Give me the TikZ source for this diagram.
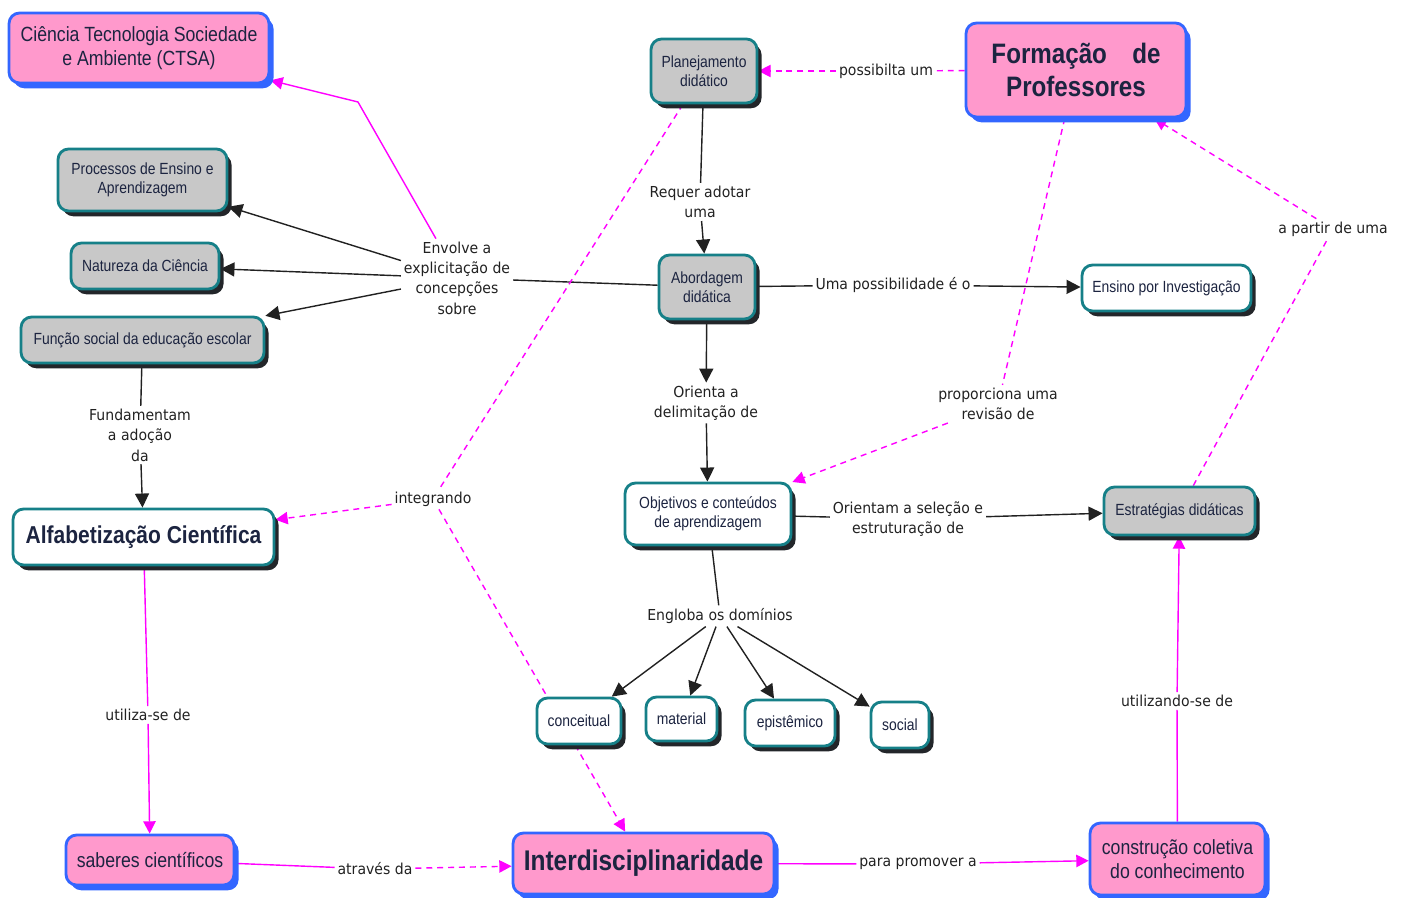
\documentclass[tikz,border=0pt]{standalone}
\usepackage{fontspec}
\setmainfont{Liberation Sans}
\newfontfamily\cfont[FakeStretch=0.86]{Liberation Sans}
\newfontfamily\lfont[FakeStretch=0.93]{DejaVu Sans}
\usetikzlibrary{arrows.meta,shadows,backgrounds}
\definecolor{cpink}{RGB}{255,153,204}
\definecolor{cblue}{RGB}{51,102,255}
\definecolor{cteal}{RGB}{22,128,136}
\definecolor{cgray}{RGB}{200,200,200}
\definecolor{cshad}{RGB}{35,38,42}
\definecolor{ctext}{RGB}{28,36,64}
\definecolor{cmag}{RGB}{255,0,255}
\tikzset{
  cbox/.style={rectangle, rounded corners=6pt, line width=1.6pt, align=center, text=ctext,
               inner sep=2pt, font=\cfont\fontsize{9.2}{10.8}\selectfont},
  pinkc/.style={cbox, draw=cblue, fill=cpink, font=\cfont\fontsize{11.7}{13.6}\selectfont,
                general shadow={fill=cblue, shadow xshift=2.6pt, shadow yshift=-3pt}},
  grayc/.style={cbox, draw=cteal, fill=cgray,
                general shadow={fill=cshad, shadow xshift=2.6pt, shadow yshift=-3pt}},
  whitec/.style={cbox, draw=cteal, fill=white,
                 general shadow={fill=cshad, shadow xshift=2.6pt, shadow yshift=-3pt}},
  lbl/.style={align=center, inner sep=1.5pt, text=black!87, font=\lfont\fontsize{8.6}{11.6}\selectfont},
  lnk/.style={line width=0.8pt, draw=black!87},
  arr/.style={lnk, -{Triangle[length=8pt,width=8pt]}},
  mlnk/.style={line width=0.8pt, draw=cmag},
  marr/.style={mlnk, -{Triangle[length=7pt,width=7pt]}},
  mdash/.style={mlnk, dash pattern=on 3.4pt off 2.8pt},
  mdarr/.style={mdash, -{Triangle[length=7pt,width=7pt]}},
}

\begin{document}
\begin{tikzpicture}[x=0.02cm, y=-0.02cm]
\useasboundingbox (0,0) rectangle (1406,898);

% --- conceitos ---
\node[pinkc, minimum width=5.2cm, minimum height=1.4cm] (ctsa) at (139,48) {Ciência Tecnologia Sociedade\\e Ambiente (CTSA)};
\node[grayc, minimum width=3.38cm, minimum height=1.24cm] (proc) at (142.5,180) {Processos de Ensino e\\Aprendizagem};
\node[grayc, minimum width=2.96cm, minimum height=0.92cm] (nat) at (145,266) {Natureza da Ciência};
\node[grayc, minimum width=4.86cm, minimum height=0.92cm] (func) at (142.5,340) {Função social da educação escolar};
\node[whitec, minimum width=5.22cm, minimum height=1.12cm,
      font=\cfont\bfseries\fontsize{13.9}{16}\selectfont] (alf) at (143.5,537) {Alfabetização Científica};
\node[pinkc, minimum width=3.36cm, minimum height=1.0cm] (sab) at (150,860) {saberes científicos};
\node[grayc, minimum width=2.12cm, minimum height=1.28cm] (plan) at (704,71) {Planejamento\\didático};
\node[pinkc, minimum width=4.4cm, minimum height=1.88cm,
      font=\cfont\bfseries\fontsize{16}{19.3}\selectfont] (form) at (1076,70) {Formação\hspace{0.9em}de\\Professores};
\node[grayc, minimum width=1.92cm, minimum height=1.28cm] (abord) at (707,287) {Abordagem\\didática};
\node[whitec, minimum width=3.38cm, minimum height=0.92cm] (ens) at (1166.5,288) {Ensino por Investigação};
\node[whitec, minimum width=3.32cm, minimum height=1.24cm] (obj) at (708,514) {Objetivos e conteúdos\\de aprendizagem};
\node[grayc, minimum width=3.02cm, minimum height=0.96cm] (estr) at (1179.5,511) {Estratégias didáticas};
\node[whitec, minimum width=1.68cm, minimum height=0.92cm] (conc) at (579,721) {conceitual};
\node[whitec, minimum width=1.42cm, minimum height=0.88cm] (mat) at (681.5,719) {material};
\node[whitec, minimum width=1.8cm, minimum height=0.92cm] (epi) at (790,723) {epistêmico};
\node[whitec, minimum width=1.16cm, minimum height=0.92cm] (soc) at (900,725) {social};
\node[pinkc, minimum width=5.22cm, minimum height=1.22cm,
      font=\cfont\bfseries\fontsize{16.2}{19}\selectfont] (inter) at (643.5,863.5) {Interdisciplinaridade};
\node[pinkc, minimum width=3.5cm, minimum height=1.44cm] (cons) at (1177.5,859) {construção coletiva\\do conhecimento};

% --- frases de ligacao ---
\node[lbl] (env) at (457,278) {Envolve a\\explicitação de\\concepções\\sobre};
\node[lbl] (poss) at (886,71) {possibilta um};
\node[lbl] (req) at (700,202) {Requer adotar\\uma};
\node[lbl] (uma) at (893,285) {Uma possibilidade é o};
\node[lbl] (fund) at (140,435) {Fundamentam\\a adoção\\da};
\node[lbl] (ori) at (706,403) {Orienta a\\delimitação de};
\node[lbl] (prop) at (998,404) {proporciona uma\\revisão de};
\node[lbl] (apart) at (1333,229) {a partir de uma};
\node[lbl] (integ) at (433,499) {integrando};
\node[lbl] (orsel) at (908,519) {Orientam a seleção e\\estruturação de};
\node[lbl] (engl) at (720,616) {Engloba os domínios};
\node[lbl] (util) at (148,715) {utiliza-se de};
\node[lbl] (utilz) at (1177,701) {utilizando-se de};
\node[lbl] (atrav) at (375,869) {através da};
\node[lbl] (promo) at (918,864) {para promover a};
\coordinate (kink) at (358,102);

\begin{scope}[on background layer]
% --- ligacoes pretas ---
\draw[lnk] (plan) -- (req);
\draw[arr] (req) -- (abord);
\draw[lnk] (abord) -- (env);
\foreach \c in {proc, nat, func} \draw[arr] (env) -- (\c);
\draw[lnk] (abord) -- (uma);
\draw[arr] (uma) -- (ens);
\draw[arr] (abord) -- (ori);
\draw[arr] (ori) -- (obj);
\draw[lnk] (func) -- (fund);
\draw[arr] (fund) -- (alf);
\draw[lnk] (obj) -- (orsel);
\draw[arr] (orsel) -- (estr);
\draw[lnk] (obj) -- (engl);
\foreach \c in {conc, mat, epi, soc} \draw[arr] (engl) -- (\c);

% --- ligacoes magenta ---
\draw[marr] ([xshift=-12pt]env.north) -- (kink) -- (ctsa);
\draw[mdash] (form) -- (poss);
\draw[mdarr] (poss) -- (plan);
\draw[mdash] (form) -- (prop);
\draw[mdarr] (prop) -- (obj);
\draw[mdash] (estr) -- (apart);
\draw[mdarr] (apart) -- (form);
\draw[mdash] (plan) -- (integ);
\draw[mdarr] (integ) -- (alf);
\draw[mdarr] (integ) -- (inter);
\draw[mlnk] (alf) -- (util);
\draw[marr] (util) -- (sab);
\draw[mlnk] (sab) -- (atrav);
\draw[mdarr] (atrav) -- (inter);
\draw[mlnk] (inter) -- (promo);
\draw[marr] (promo) -- (cons);
\draw[mlnk] (cons) -- (utilz);
\draw[marr] (utilz) -- (estr);
\end{scope}
\end{tikzpicture}
\end{document}
